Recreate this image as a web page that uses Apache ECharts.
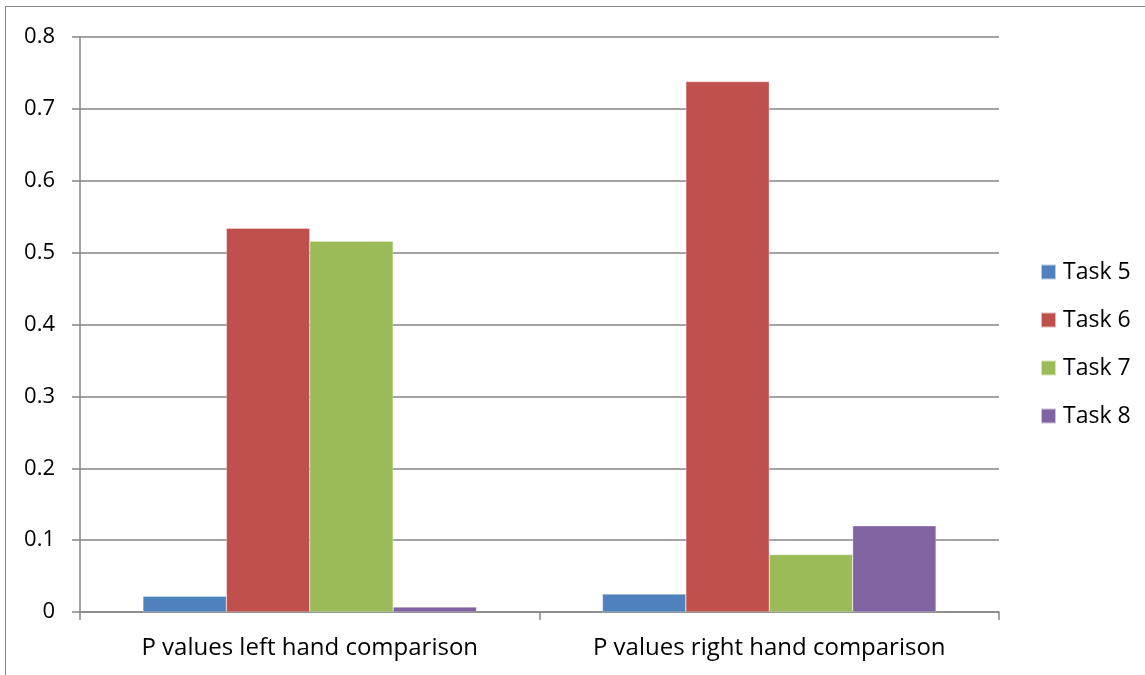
<!DOCTYPE html>
<html>
<head>
<meta charset="utf-8">
<script src="https://cdn.jsdelivr.net/npm/echarts@6/dist/echarts.min.js"></script>
<style>
  html, body { margin: 0; padding: 0; background: #fff; }
  #frame { position: absolute; left: 5px; top: 6px; width: 1150px; height: 680px; border: 1px solid #888; box-sizing: border-box; }
  #chart { position: absolute; left: 0; top: 0; width: 1145px; height: 675px; }
</style>
</head>
<body>
<div id="frame"></div>
<div id="chart"></div>
<script>
// Categories and P values per task
const categories = ['P values left hand comparison', 'P values right hand comparison'];
const seriesNames = ['Task 5', 'Task 6', 'Task 7', 'Task 8'];
const task5 = [0.022, 0.025];
const task6 = [0.534, 0.738];
const task7 = [0.516, 0.080];
const task8 = [0.007, 0.120];
const colors = ['#4F81BD', '#C0504D', '#9BBB59', '#8064A2'];

const values = [task5, task6, task7, task8];
const font = '"Open Sans", "Liberation Sans", sans-serif';

const chart = echarts.init(document.getElementById('chart'), null, { renderer: 'canvas' });
chart.setOption({
  animation: false,
  grid: { left: 80, right: 146, top: 37, bottom: 63, containLabel: false },
  legend: {
    orient: 'vertical',
    left: 1035,
    top: 254,
    itemWidth: 15,
    itemHeight: 15,
    itemGap: 22,
    icon: 'rect',
    textStyle: { fontFamily: font, fontSize: 23, color: '#000', padding: [0, 0, 0, 2], lineHeight: 26 },
    data: seriesNames
  },
  xAxis: {
    type: 'category',
    data: categories,
    axisLine: { lineStyle: { color: '#868686', width: 1.5 } },
    axisTick: { show: true, length: 8, alignWithLabel: false, lineStyle: { color: '#868686', width: 1.5 } },
    axisLabel: { fontFamily: font, fontSize: 24, color: '#000', margin: 24 }
  },
  yAxis: {
    type: 'value',
    min: 0,
    max: 0.8,
    interval: 0.1,
    axisLine: { show: true, lineStyle: { color: '#868686', width: 1.5 } },
    axisTick: { show: true, length: 8, lineStyle: { color: '#868686', width: 1.5 } },
    splitLine: { lineStyle: { color: '#868686', width: 1.5 } },
    axisLabel: {
      fontFamily: font, fontSize: 22, color: '#000', margin: 25,
      formatter: v => (v === 0 ? '0' : v.toFixed(1))
    }
  },
  series: seriesNames.map((name, i) => ({
    name,
    type: 'bar',
    data: values[i],
    barGap: '0%',
    barCategoryGap: '27.4%',
    itemStyle: { color: colors[i], borderColor: 'rgba(255,255,255,0.6)', borderWidth: 0.5 }
  }))
});
</script>
</body>
</html>
